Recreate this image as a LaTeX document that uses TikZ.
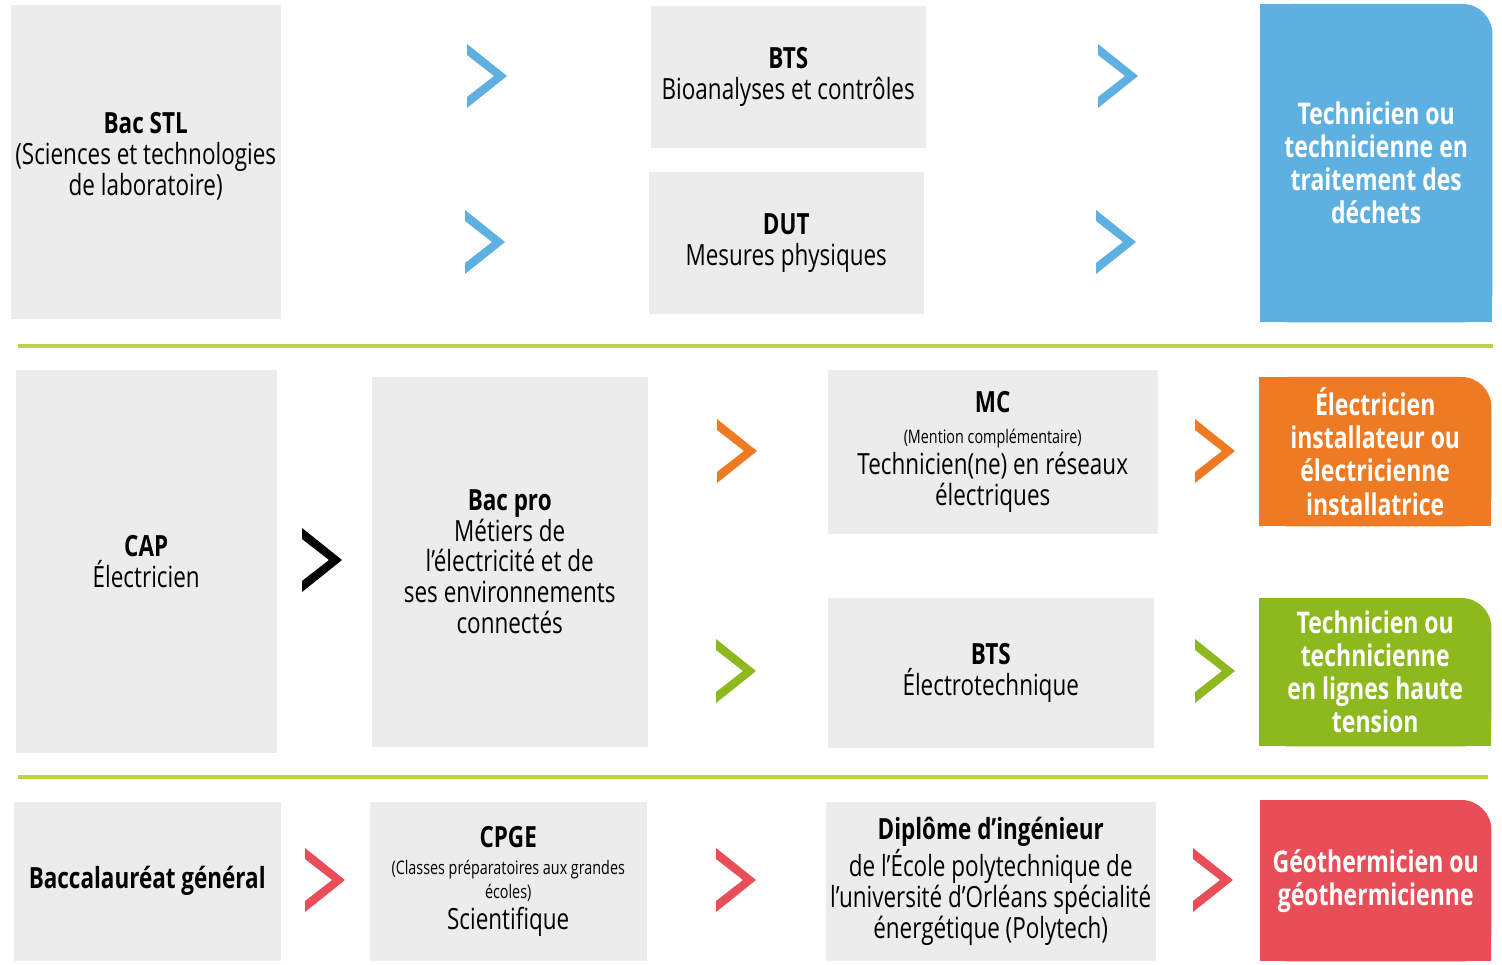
\documentclass[tikz,border=0pt]{standalone}
\usepackage{fontspec}
\setmainfont{Open Sans}[FakeStretch=0.77]
\usepackage{xcolor}
\usepackage{tikz}
\usetikzlibrary{positioning, calc, backgrounds}

\definecolor{gris}{HTML}{ECECEC}
\definecolor{bleu}{HTML}{5EB0E1}
\definecolor{orange}{HTML}{EE7A23}
\definecolor{vert}{HTML}{8DB91F}
\definecolor{rouge}{HTML}{E84E57}
\definecolor{filet}{HTML}{BDD34A}

\newcommand{\petit}{\fontsize{5.3}{6.2}\selectfont}
\newcommand{\normal}{\fontsize{8.3}{8.8}\selectfont}

% fond a coin arrondi en haut a droite
\newcommand{\fondcible}[2]{%
  \begin{scope}[on background layer]
    \fill[#2, rounded corners=0.3cm] (#1.south west) rectangle (#1.north east);
    \fill[#2] (#1.south west) rectangle ([xshift=-0.3cm]#1.north east);
    \fill[#2] (#1.south west) rectangle ([yshift=-0.3cm]#1.north east);
  \end{scope}}

\begin{document}
\begin{tikzpicture}[
    grisbox/.style={
        fill=gris,
        anchor=north west,
        inner sep=0pt,
        align=center,
        font=\normal
    },
    ciblebox/.style={
        anchor=north west,
        inner sep=0pt,
        align=center,
        text=white,
        font=\fontsize{8.5}{9.4}\selectfont\bfseries
    },
    chev/.pic={
        \fill[#1] (0,0) -- (0.40,-0.32) -- (0,-0.64) -- (0,-0.53) -- (0.27,-0.32) -- (0,-0.11) -- cycle;
    },
    filetsep/.style={filet, line width=1.1pt}
]
\useasboundingbox (0,0) rectangle (15.02,-9.65);

% ==========================================
% BAC STL
% ==========================================
\node[grisbox, minimum width=2.70cm, minimum height=3.14cm] (bacstl) at (0.10,-0.04)
    {\textbf{Bac STL}\\(Sciences et technologies\\de laboratoire)\\[-4.5pt]\mbox{}};
\node[grisbox, minimum width=2.75cm, minimum height=1.42cm] (btsbio) at (6.50,-0.05)
    {\textbf{BTS}\\Bioanalyses et contrôles};
\node[grisbox, minimum width=2.75cm, minimum height=1.42cm] (dut) at (6.48,-1.71)
    {\textbf{DUT}\\Mesures physiques};
\node[ciblebox, minimum width=2.31cm, minimum height=3.17cm] (dechets) at (12.60,-0.04)
    {Technicien ou\\technicienne en\\traitement des\\déchets};
\fondcible{dechets}{bleu}

% Chevrons
\pic at (4.67,-0.44) {chev=bleu};
\pic at (4.65,-2.10) {chev=bleu};
\pic at (10.98,-0.44) {chev=bleu};
\pic at (10.96,-2.10) {chev=bleu};

\draw[filetsep] (0.18,-3.46) -- (14.93,-3.46);

% ==========================================
% CAP
% ==========================================
\node[grisbox, minimum width=2.61cm, minimum height=3.83cm] (cap) at (0.15,-3.69)
    {\textbf{CAP}\\Électricien};
\node[grisbox, minimum width=2.76cm, minimum height=3.70cm] (bacpro) at (3.71,-3.76)
    {\textbf{Bac pro}\\Métiers de\\l’électricité et de\\ses environnements\\connectés};
\node[grisbox, minimum width=3.30cm, minimum height=1.64cm] (mc) at (8.27,-3.69)
    {\textbf{MC}\\\petit (Mention complémentaire)\\Technicien(ne) en réseaux\\électriques};
\node[grisbox, minimum width=3.26cm, minimum height=1.50cm] (btselec) at (8.27,-5.97)
    {\textbf{BTS}\\Électrotechnique};
\node[ciblebox, minimum width=2.31cm, minimum height=1.48cm] (electricien) at (12.59,-3.77)
    {Électricien\\installateur ou\\électricienne\\installatrice};
\fondcible{electricien}{orange}
\node[ciblebox, minimum width=2.31cm, minimum height=1.47cm] (lignes) at (12.59,-5.98)
    {Technicien ou\\technicienne\\en lignes haute\\tension};
\fondcible{lignes}{vert}

% Chevrons
\pic at (3.02,-5.28) {chev=black};
\pic at (7.17,-4.19) {chev=orange};
\pic at (7.16,-6.39) {chev=vert};
\pic at (11.95,-4.19) {chev=orange};
\pic at (11.95,-6.39) {chev=vert};

\draw[filetsep] (0.18,-7.77) -- (14.88,-7.77);

% ==========================================
% BACCALAUREAT GENERAL
% ==========================================
\node[grisbox, minimum width=2.67cm, minimum height=1.59cm] (bacgen) at (0.13,-8.01)
    {\textbf{Baccalauréat général}};
\node[grisbox, minimum width=2.77cm, minimum height=1.59cm] (cpge) at (3.69,-8.01)
    {\textbf{CPGE}\\[-1pt]\petit (Classes préparatoires aux grandes\\[-2.2pt]\petit écoles)\\Scientifique};
\node[grisbox, minimum width=3.30cm, minimum height=1.59cm] (polytech) at (8.25,-8.01)
    {\textbf{Diplôme d’ingénieur}\\de l’École polytechnique de\\l’université d’Orléans spécialité\\énergétique (Polytech)};
\node[ciblebox, minimum width=2.30cm, minimum height=1.60cm] (geotherm) at (12.60,-8.00)
    {Géothermicien ou\\géothermicienne};
\fondcible{geotherm}{rouge}

% Chevrons
\pic at (3.05,-8.48) {chev=rouge};
\pic at (7.16,-8.48) {chev=rouge};
\pic at (11.93,-8.48) {chev=rouge};

\end{tikzpicture}
\end{document}
